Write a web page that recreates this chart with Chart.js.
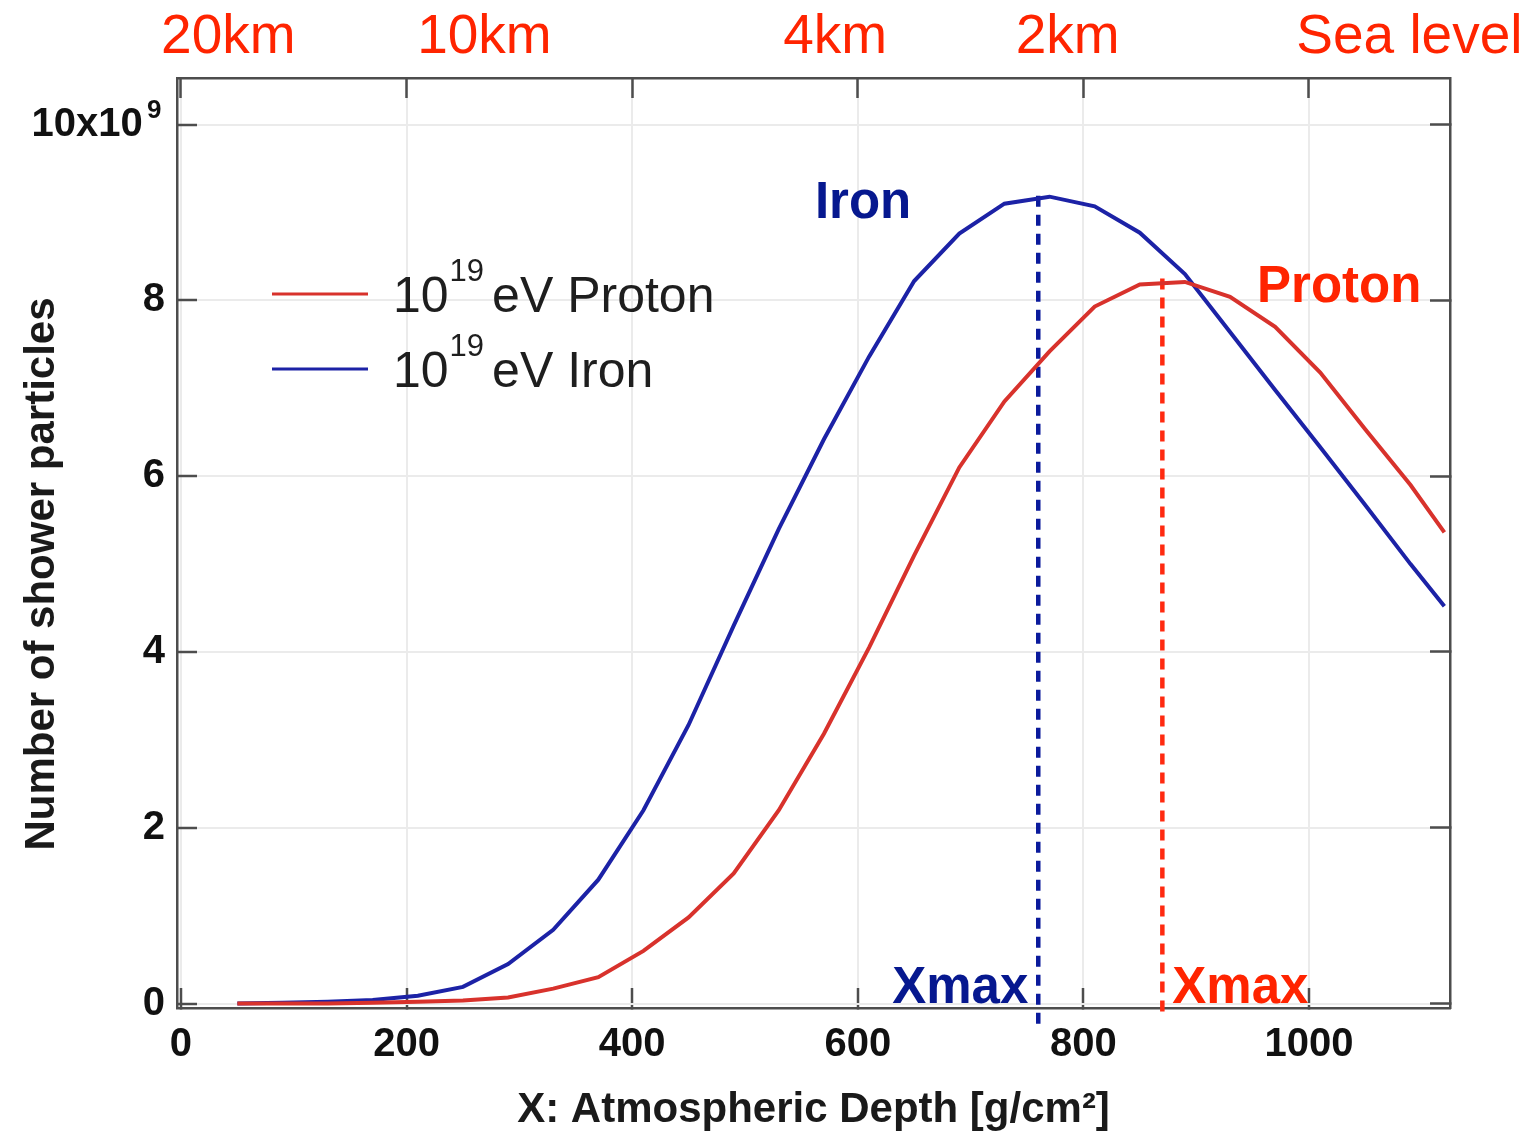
<!DOCTYPE html>
<html>
<head>
<meta charset="utf-8">
<title>Air shower longitudinal profile</title>
<script src="https://cdn.jsdelivr.net/npm/chart.js@4.4.1/dist/chart.umd.min.js"></script>
<style>
  html, body { margin: 0; padding: 0; background: #fff; }
</style>
</head>
<body>
<canvas id="shower" width="1523" height="1132"></canvas>
<script>
// slant depth of each profile sample [g/cm2]
const depth = [50, 90, 130, 170, 210, 250, 290, 330, 370, 410, 450, 490, 530, 570,
  610, 650, 690, 730, 770, 810, 850, 890, 930, 970, 1010, 1050, 1090, 1120]
// shower size in units of 1e9 particles
const proton = [0, 0, 0, 0.01, 0.02, 0.035, 0.07, 0.17, 0.3, 0.6, 0.98, 1.48, 2.2, 3.07,
  4.05, 5.1, 6.1, 6.85, 7.42, 7.93, 8.18, 8.21, 8.04, 7.7, 7.18, 6.53, 5.9, 5.36]
const iron = [0, 0.01, 0.02, 0.04, 0.09, 0.19, 0.45, 0.84, 1.41, 2.2, 3.17, 4.3, 5.4, 6.42,
  7.36, 8.22, 8.76, 9.1, 9.18, 9.07, 8.77, 8.3, 7.64, 6.98, 6.33, 5.67, 5.0, 4.52]

const xTicks = [0, 200, 400, 600, 800, 1000]
const yTicks = [0, 2, 4, 6, 8, 10]

// altitude marks along the top edge
const altitudeNames = ['20km', '10km', '4km', '2km', 'Sea level']
const altitudeDepth = [42, 269, 580, 786, 1089]

// depth of shower maximum
const xmaxIron = 760
const xmaxProton = 870
const ironMarkTop = 9.28
const ironMarkBottom = -0.23
const protonMarkTop = 8.26
const protonMarkBottom = -0.09

const FONT = "'Liberation Sans', Arial, Helvetica, sans-serif"
const PROTON_LINE = '#d8322c'
const IRON_LINE = '#1c22a6'
const RED_TEXT = '#ff2400'
const BLUE_TEXT = '#06188f'
const FRAME = '#4d4d4d'

const pts = ys => depth.map((x, i) => ({ x, y: ys[i] }))

const frame = { display: true, color: FRAME, width: 2.5 }
const fixTicks = list => s => { s.ticks = list.map(v => ({ value: v })) }

const overlay = {
  id: 'overlay',
  afterDraw (chart) {
    const { ctx, chartArea: area } = chart
    const xs = chart.scales.x
    const ys = chart.scales.y
    ctx.save()

    // altitude labels
    ctx.fillStyle = RED_TEXT
    ctx.font = `55px ${FONT}`
    ctx.textAlign = 'center'
    ctx.textBaseline = 'alphabetic'
    altitudeNames.forEach((t, i) => {
      ctx.fillText(t, xs.getPixelForValue(altitudeDepth[i]), 53)
    })

    // exponent of the top y label
    ctx.fillStyle = '#111'
    ctx.font = `bold 26px ${FONT}`
    ctx.textAlign = 'left'
    ctx.fillText('9', 147, ys.getPixelForValue(10) - 7)

    // y axis title
    ctx.save()
    ctx.translate(42, 574)
    ctx.rotate(-Math.PI / 2)
    ctx.textAlign = 'center'
    ctx.textBaseline = 'middle'
    ctx.fillStyle = '#1a1a1a'
    ctx.font = `bold 42px ${FONT}`
    ctx.fillText('Number of shower particles', 0, 0)
    ctx.restore()

    // legend
    const rows = [
      { color: PROTON_LINE, text: 'eV Proton', y: area.top + 216 },
      { color: IRON_LINE, text: 'eV Iron', y: area.top + 291 }
    ]
    rows.forEach(r => {
      ctx.strokeStyle = r.color
      ctx.lineWidth = 3
      ctx.beginPath()
      ctx.moveTo(area.left + 95, r.y)
      ctx.lineTo(area.left + 191, r.y)
      ctx.stroke()
      ctx.fillStyle = '#1e1e1e'
      let x = area.left + 216
      ctx.font = `50px ${FONT}`
      ctx.fillText('10', x, r.y + 18)
      x += ctx.measureText('10').width + 1
      ctx.font = `31px ${FONT}`
      ctx.fillText('19', x, r.y - 13)
      x += ctx.measureText('19').width + 8
      ctx.font = `50px ${FONT}`
      ctx.fillText(r.text, x, r.y + 18)
    })

    // curve and Xmax labels
    ctx.font = `bold 51px ${FONT}`
    ctx.fillStyle = BLUE_TEXT
    ctx.fillText('Iron', xs.getPixelForValue(562), ys.getPixelForValue(8.94))
    ctx.fillStyle = RED_TEXT
    ctx.fillText('Proton', xs.getPixelForValue(954), ys.getPixelForValue(7.98))
    const base = ys.getPixelForValue(0) - 1
    ctx.fillStyle = BLUE_TEXT
    ctx.textAlign = 'right'
    ctx.fillText('Xmax', xs.getPixelForValue(xmaxIron) - 10, base)
    ctx.fillStyle = RED_TEXT
    ctx.textAlign = 'left'
    ctx.fillText('Xmax', xs.getPixelForValue(xmaxProton) + 10, base)
    ctx.restore()
  }
}

new Chart(document.getElementById('shower'), {
  type: 'line',
  data: {
    datasets: [
      { label: '10^19 eV Proton', data: pts(proton), borderColor: PROTON_LINE, borderWidth: 4 },
      { label: '10^19 eV Iron', data: pts(iron), borderColor: IRON_LINE, borderWidth: 4 },
      {
        label: 'Xmax iron',
        data: [{ x: xmaxIron, y: ironMarkBottom }, { x: xmaxIron, y: ironMarkTop }],
        borderColor: '#0a1a9c', borderWidth: 4.5, borderDash: [11, 8], clip: false
      },
      {
        label: 'Xmax proton',
        data: [{ x: xmaxProton, y: protonMarkBottom }, { x: xmaxProton, y: protonMarkTop }],
        borderColor: '#ff2a10', borderWidth: 4.5, borderDash: [11, 8], clip: false
      }
    ]
  },
  options: {
    responsive: false,
    devicePixelRatio: 1,
    animation: false,
    layout: { padding: { left: 0, right: 73, top: 78, bottom: 0 } },
    elements: { point: { radius: 0 }, line: { tension: 0 } },
    plugins: { legend: { display: false }, tooltip: { enabled: false } },
    scales: {
      x: {
        type: 'linear',
        position: 'bottom',
        min: -3.5,
        max: 1125,
        afterBuildTicks: fixTicks(xTicks),
        afterFit: s => { s.height = 124 },
        border: frame,
        grid: { color: '#ebebeb', lineWidth: 2, tickLength: -20, tickColor: FRAME, tickWidth: 2.5 },
        ticks: {
          autoSkip: false,
          maxRotation: 0,
          padding: 33,
          color: '#111',
          font: { family: FONT, size: 40, weight: 'bold' },
          callback: v => String(v)
        },
        title: {
          display: true,
          text: 'X: Atmospheric Depth [g/cm²]',
          color: '#1a1a1a',
          font: { family: FONT, size: 42, weight: 'bold', lineHeight: 1 },
          padding: { top: 0, bottom: 1 }
        }
      },
      xTop: {
        type: 'linear',
        position: 'top',
        min: -3.5,
        max: 1125,
        afterBuildTicks: fixTicks(xTicks),
        afterFit: s => { s.height = 0 },
        border: frame,
        grid: { drawOnChartArea: false, tickLength: -20, tickColor: FRAME, tickWidth: 2.5 },
        ticks: { display: false }
      },
      y: {
        type: 'linear',
        position: 'left',
        min: -0.05,
        max: 10.53,
        afterBuildTicks: fixTicks(yTicks),
        afterFit: s => { s.width = 177 },
        border: frame,
        grid: { color: '#ebebeb', lineWidth: 2, tickLength: -20, tickColor: FRAME, tickWidth: 2.5 },
        ticks: {
          padding: 32,
          color: '#111',
          font: { family: FONT, size: 40, weight: 'bold' },
          callback: v => (v === 10 ? '10x10  ' : String(v))
        }
      },
      yRight: {
        type: 'linear',
        position: 'right',
        min: -0.05,
        max: 10.53,
        afterBuildTicks: fixTicks(yTicks),
        afterFit: s => { s.width = 0 },
        border: frame,
        grid: { drawOnChartArea: false, tickLength: -20, tickColor: FRAME, tickWidth: 2.5 },
        ticks: { display: false }
      }
    }
  },
  plugins: [overlay]
})
</script>
</body>
</html>
